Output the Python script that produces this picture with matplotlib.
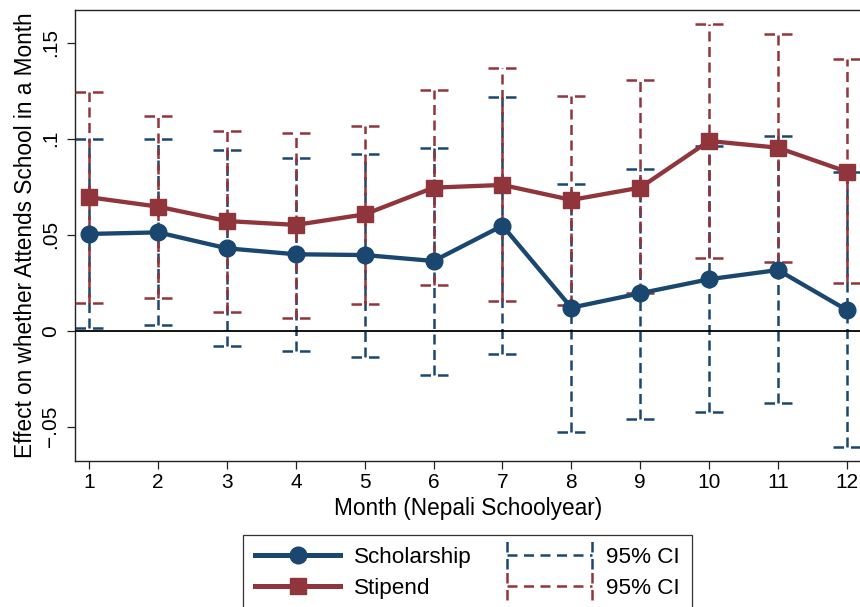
import matplotlib
matplotlib.use("Agg")
import matplotlib.pyplot as plt
from matplotlib.lines import Line2D
from matplotlib.legend_handler import HandlerBase
import numpy as np

plt.rcParams['font.family'] = ['Liberation Sans', 'DejaVu Sans']

months = [1, 2, 3, 4, 5, 6, 7, 8, 9, 10, 11, 12]
scholarship = [0.0504, 0.0512, 0.0429, 0.0398, 0.0394, 0.0363, 0.0547, 0.0120, 0.0195, 0.0268, 0.0316, 0.0108]
scholarship_hi = [0.0997, 0.0997, 0.0941, 0.0898, 0.0920, 0.0953, 0.1217, 0.0766, 0.0844, 0.0962, 0.1012, 0.0825]
scholarship_lo = [0.0012, 0.0030, -0.0080, -0.0106, -0.0137, -0.0229, -0.0120, -0.0526, -0.0460, -0.0425, -0.0377, -0.0607]
stipend = [0.0695, 0.0646, 0.0571, 0.0551, 0.0606, 0.0745, 0.0759, 0.0681, 0.0745, 0.0988, 0.0953, 0.0828]
stipend_hi = [0.1242, 0.1118, 0.1040, 0.1031, 0.1068, 0.1252, 0.1368, 0.1224, 0.1304, 0.1597, 0.1544, 0.1414]
stipend_lo = [0.0146, 0.0170, 0.0099, 0.0068, 0.0139, 0.0238, 0.0155, 0.0134, 0.0195, 0.0377, 0.0360, 0.0250]
yticks = [-0.05, 0, 0.05, 0.1, 0.15]
yticklabels = ['\u2212.05', '0', '.05', '.1', '.15']

BLUE = '#1a476f'
RED = '#90353b'

fig = plt.figure(figsize=(8.6, 6.07), dpi=100)
ax = fig.add_axes([0.0869, 0.241, 0.9147, 0.7425])

x = np.array(months)
ci_lw = 1.8
vdash = (0, (4.0, 2.2))
cdash = (0, (4.2, 2.8))
capw = 0.205

for lo, hi, col, z in [(scholarship_lo, scholarship_hi, BLUE, 2), (stipend_lo, stipend_hi, RED, 3)]:
    ax.vlines(x, lo, hi, colors=col, linestyles=[vdash], lw=ci_lw, zorder=z)
    ax.hlines(lo, x - capw, x + capw, colors=col, linestyles=[cdash], lw=ci_lw, zorder=z)
    ax.hlines(hi, x - capw, x + capw, colors=col, linestyles=[cdash], lw=ci_lw, zorder=z)

ax.axhline(0, color='black', lw=1.3, zorder=4)

ax.plot(x, scholarship, color=BLUE, lw=3.1, marker='o', ms=12, zorder=5)
ax.plot(x, stipend, color=RED, lw=3.1, marker='s', ms=12, zorder=6)

ax.set_xlim(1 - 0.212, 12 + 0.212)
ax.set_ylim(-0.0677, 0.167)
ax.set_xticks(months)
ax.set_xticklabels([str(m) for m in months], fontsize=15)
ax.set_yticks(yticks)
ax.set_yticklabels(yticklabels, fontsize=15, rotation=90, va='center')
ax.tick_params(axis='both', direction='out', length=5.8, width=0.9, color='#222222')
ax.tick_params(axis='y', pad=4.5)
ax.tick_params(axis='x', pad=3)
for s in ax.spines.values():
    s.set_color('#222222')
    s.set_linewidth(1.0)

ax.set_xlabel('Month (Nepali Schoolyear)', fontsize=16.3, labelpad=4)
ax.set_ylabel('Effect on whether Attends School in a Month', fontsize=16.3, labelpad=3)


class HandlerRcap(HandlerBase):
    def create_artists(self, legend, orig_handle, xdescent, ydescent, width, height, fontsize, trans):
        col = orig_handle.get_color()
        yc = height / 2 - ydescent
        h = 10.0
        x0 = -xdescent
        x1 = -xdescent + width
        artists = []
        l1 = Line2D([x0, x1], [yc, yc], color=col, lw=1.8, linestyle=(0, (4.0, 2.6)))
        l2 = Line2D([x0, x0], [yc - h, yc + h], color=col, lw=1.8, linestyle=(0, (4.2, 2.6)))
        l3 = Line2D([x1, x1], [yc - h, yc + h], color=col, lw=1.8, linestyle=(0, (4.2, 2.6)))
        for a in (l1, l2, l3):
            a.set_transform(trans)
            artists.append(a)
        return artists


h_sch = Line2D([], [], color=BLUE, lw=3.6, marker='o', ms=12)
h_stip = Line2D([], [], color=RED, lw=3.6, marker='s', ms=12)
h_ci1 = Line2D([], [], color=BLUE)
h_ci2 = Line2D([], [], color=RED)

leg = fig.legend([h_sch, h_stip, h_ci1, h_ci2],
                 ['Scholarship', 'Stipend', '95% CI', '95% CI'],
                 ncol=2, loc='upper left', bbox_to_anchor=(243 / 860, 1 - 534.7 / 607),
                 fontsize=16.2, frameon=True, fancybox=False, handlelength=3.78,
                 handletextpad=0.62, columnspacing=1.56, borderpad=0.55, labelspacing=0.42,
                 numpoints=1, borderaxespad=0,
                 handler_map={h_ci1: HandlerRcap(), h_ci2: HandlerRcap()})
leg.get_frame().set_edgecolor('black')
leg.get_frame().set_linewidth(0.9)

fig.savefig('out.png', dpi=100)
